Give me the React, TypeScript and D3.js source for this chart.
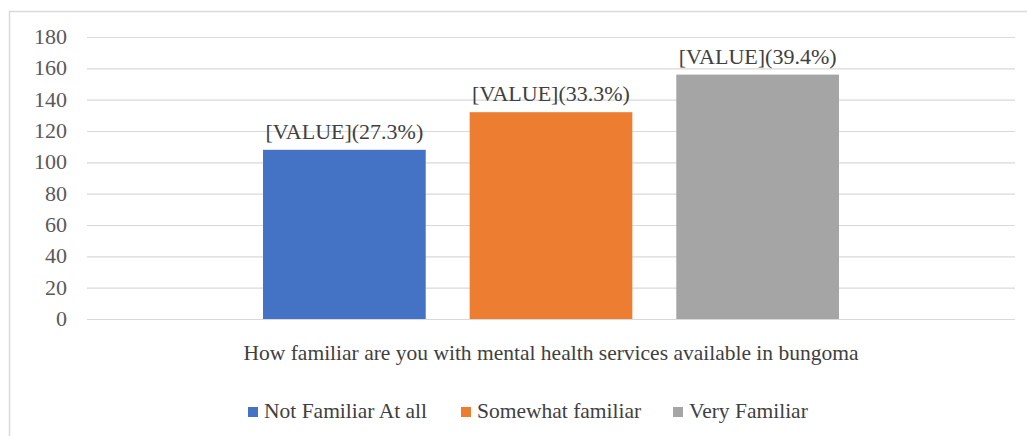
import * as d3 from 'd3';
import React, { useEffect, useRef } from 'react';

const categories = ['Not Familiar At all', 'Somewhat familiar', 'Very Familiar'];
const values = [108, 132, 156];
const percentLabels = ['27.3%', '33.3%', '39.4%'];
const colors = ['#4472c4', '#ed7d31', '#a5a5a5'];
const yTicks = [0, 20, 40, 60, 80, 100, 120, 140, 160, 180];
const axisTitle = 'How familiar are you with mental health services available in bungoma';

const width = 1027;
const height = 436;
const font = "'Liberation Serif', 'DejaVu Serif', 'Times New Roman', serif";

export default function App() {
  const node = useRef<SVGSVGElement>(null);

  useEffect(() => {
    const svg = d3.select(node.current);
    svg.selectAll('*').remove();

    const left = 87;
    const right = 1015;
    const y = d3.scaleLinear().domain([0, 180]).range([319, 37]);
    const group = d3.scaleBand().domain(['g']).range([left, right]).paddingInner(0).paddingOuter(0.3056);
    const x = d3
      .scaleBand()
      .domain(categories)
      .range([group('g') as number, (group('g') as number) + group.bandwidth()])
      .paddingInner(0.2126)
      .paddingOuter(0);

    svg.append('rect').attr('width', width).attr('height', height).attr('fill', '#fff');

    // chart border
    svg
      .append('rect')
      .attr('x', 9.5)
      .attr('y', 11.5)
      .attr('width', width + 10)
      .attr('height', height + 10)
      .attr('fill', 'none')
      .attr('stroke', '#d9d9d9')
      .attr('stroke-width', 1.5);

    // gridlines
    svg
      .append('g')
      .selectAll('line')
      .data(yTicks)
      .enter()
      .append('line')
      .attr('x1', left)
      .attr('x2', right)
      .attr('y1', (d) => y(d) + 0.5)
      .attr('y2', (d) => y(d) + 0.5)
      .attr('stroke', '#d9d9d9')
      .attr('stroke-width', 1.2);

    // tick labels
    svg
      .append('g')
      .selectAll('text')
      .data(yTicks)
      .enter()
      .append('text')
      .attr('x', 67)
      .attr('y', (d) => y(d) + 7)
      .attr('text-anchor', 'end')
      .style('font-family', font)
      .attr('font-size', 22)
      .attr('fill', '#595959')
      .text((d) => d);

    // bars
    svg
      .append('g')
      .selectAll('rect')
      .data(values)
      .enter()
      .append('rect')
      .attr('x', (d, i) => x(categories[i]) as number)
      .attr('y', (d) => y(d))
      .attr('width', x.bandwidth())
      .attr('height', (d) => y(0) - y(d))
      .attr('fill', (d, i) => colors[i]);

    // data labels
    svg
      .append('g')
      .selectAll('text')
      .data(values)
      .enter()
      .append('text')
      .attr('x', (d, i) => (x(categories[i]) as number) + x.bandwidth() / 2)
      .attr('y', (d) => y(d) - 11)
      .attr('text-anchor', 'middle')
      .style('font-family', font)
      .attr('font-size', 22)
      .attr('fill', '#404040')
      .text((d, i) => `[VALUE](${percentLabels[i]})`);

    // axis title
    svg
      .append('text')
      .attr('x', (left + right) / 2)
      .attr('y', 360)
      .attr('text-anchor', 'middle')
      .style('font-family', font)
      .attr('font-size', 21.5)
      .attr('fill', '#404040')
      .text(axisTitle);

    // legend
    const legendX = [248, 461, 673];
    const legend = svg
      .append('g')
      .selectAll('g')
      .data(categories)
      .enter()
      .append('g')
      .attr('transform', (d, i) => 'translate(' + legendX[i] + ',412)');
    legend
      .append('rect')
      .attr('x', 0)
      .attr('y', -5)
      .attr('width', 10)
      .attr('height', 10)
      .attr('fill', (d, i) => colors[i]);
    legend
      .append('text')
      .attr('x', 16)
      .attr('y', 6)
      .style('font-family', font)
      .attr('font-size', 21.5)
      .attr('fill', '#404040')
      .text((d) => d);
  }, []);

  return (
    <svg
      ref={node}
      width={width}
      height={height}
      style={{ position: 'absolute', left: 0, top: 0, display: 'block' }}
    />
  );
}
